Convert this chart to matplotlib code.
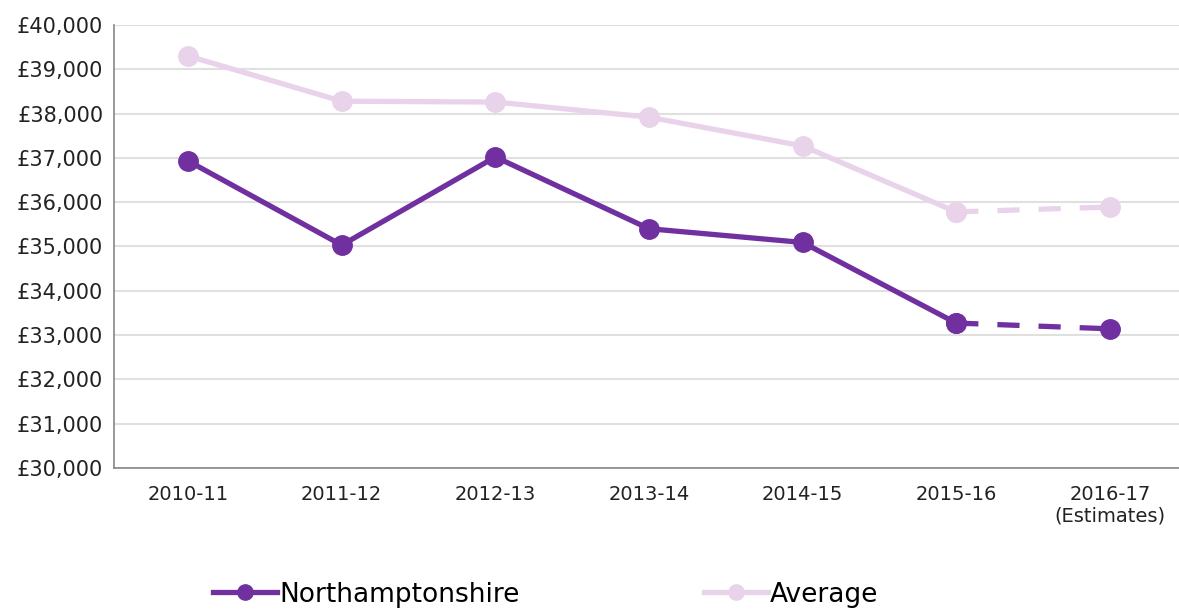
import matplotlib
matplotlib.use('Agg')
import matplotlib.pyplot as plt
from matplotlib.lines import Line2D
from matplotlib.ticker import FuncFormatter

years = ['2010-11', '2011-12', '2012-13', '2013-14', '2014-15', '2015-16', '2016-17\n(Estimates)']
northants = [36930, 35030, 37020, 35400, 35090, 33270, 33140]
average = [39300, 38280, 38260, 37920, 37270, 35780, 35890]

dark = '#7030A0'
light = '#E8D3EA'

plt.rcParams['font.family'] = ['DejaVu Sans']

fig = plt.figure(figsize=(11.79, 6.10), dpi=100)
ax = fig.add_axes([0.097, 0.233, 0.903, 0.726])

x = list(range(len(years)))
for vals, col in [(average, light), (northants, dark)]:
    # solid for actuals, dashed for the estimate year
    ax.plot(x[:6], vals[:6], color=col, lw=3.8, marker='o', ms=14, solid_capstyle='round')
    ax.plot(x[5:], vals[5:], color=col, lw=3.8, ls=(0, (4.2, 3.6)), marker='o', ms=14)

ax.set_ylim(30000, 40000)
ax.set_xlim(-0.48, 6.45)
ax.set_yticks(range(30000, 40001, 1000))
ax.yaxis.set_major_formatter(FuncFormatter(lambda v, p: f'£{int(v):,}'))
ax.set_xticks(x)
ax.set_xticklabels(years)
ax.tick_params(axis='both', length=0, colors='#222222')
ax.tick_params(axis='x', pad=12, labelsize=14)
ax.tick_params(axis='y', pad=8, labelsize=15)
ax.grid(axis='y', color='#E0E0E0', lw=1.5)
ax.set_axisbelow(True)
for s in ['top', 'right']:
    ax.spines[s].set_visible(False)
for s in ['left', 'bottom']:
    ax.spines[s].set_color('#888888')
    ax.spines[s].set_linewidth(1.2)

handles = [Line2D([], [], color=dark, lw=3.8, marker='o', ms=11),
           Line2D([], [], color=light, lw=3.8, marker='o', ms=11)]
fig.legend(handles, ['Northamptonshire', 'Average'], loc='lower center',
           bbox_to_anchor=(0.463, -0.035), ncol=2, frameon=False, fontsize=19,
           handlelength=2.4, handletextpad=0.1, columnspacing=7.0)

fig.savefig('out.png', dpi=100)
